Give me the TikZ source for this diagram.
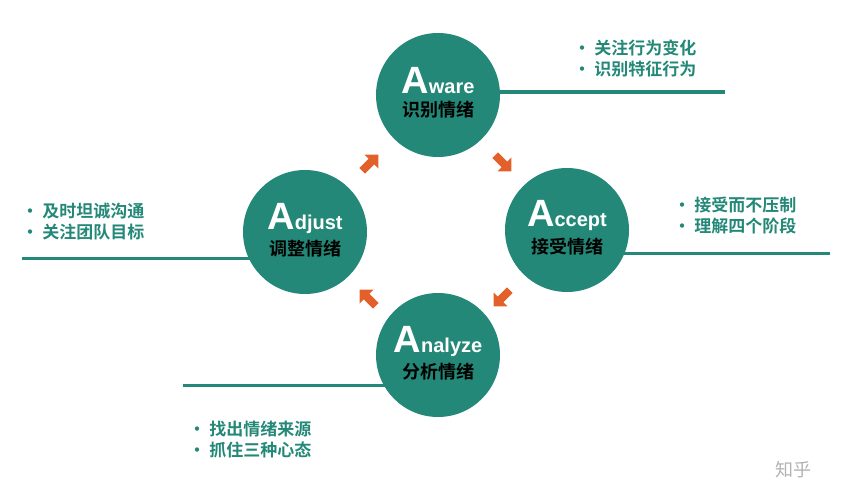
\documentclass[tikz,border=0pt]{standalone}
\usepackage{fontspec}
\setmainfont{Liberation Sans}
\newfontfamily\cjk{Noto Sans CJK SC}[BoldFont={* Bold}]
\begin{document}
\begin{tikzpicture}[x=1pt,y=-1pt,
  circ/.style={circle,fill=teal0,minimum size=124pt,inner sep=0pt},
  lin/.style={teal0,line width=3pt},
  note/.style={font=\cjk\bfseries\fontsize{17}{21}\selectfont,text=teal0,align=left,anchor=west},
  barr/.pic={\fill[orange0] (-11,-4)--(2,-4)--(2,-10)--(12,0)--(2,10)--(2,4)--(-11,4)--cycle;}]
\definecolor{teal0}{HTML}{238877}
\definecolor{orange0}{HTML}{E3602A}
\useasboundingbox (0,0) rectangle (865,503);
\def\lab#1#2{\shortstack{{\color{white}\bfseries #1}\\[4pt]{\cjk\bfseries\fontsize{18}{18}\selectfont #2}}}
\node[circ] (aw) at (438,95) {};
\node[circ] (ac) at (567,230) {};
\node[circ] (ad) at (305,232) {};
\node[circ] (an) at (438,355) {};
\node at (438,93) {\lab{\fontsize{38}{38}\selectfont A\fontsize{20}{20}\selectfont ware}{识别情绪}};
\node at (567,228) {\lab{\fontsize{38}{38}\selectfont A\fontsize{20}{20}\selectfont ccept}{接受情绪}};
\node at (305,230) {\lab{\fontsize{38}{38}\selectfont A\fontsize{20}{20}\selectfont djust}{调整情绪}};
\node at (438,353) {\lab{\fontsize{38}{38}\selectfont A\fontsize{20}{20}\selectfont nalyze}{分析情绪}};
\coordinate (e1) at (725,92);
\coordinate (e2) at (830,253);
\coordinate (e3) at (22,258);
\coordinate (e4) at (183,385);
\draw[lin] (aw.center |- e1) ++(50,0) -- (e1);
\draw[lin] (ac.center |- e2) ++(50,0) -- (e2);
\draw[lin] (e3) -- ([xshift=-50]ad.center |- e3);
\draw[lin] (e4) -- ([xshift=-45]an.center |- e4);
\node[note] (n1) at (570,58) {· 关注行为变化\\· 识别特征行为};
\node[note] (n2) at (670,216) {· 接受而不压制\\· 理解四个阶段};
\node[note] (n3) at (18,222) {· 及时坦诚沟通\\· 关注团队目标};
\node[note] (n4) at (185,440) {· 找出情绪来源\\· 抓住三种心态};
\pic[rotate=45] at (370,163) {barr};
\pic[rotate=-45] at (503,163) {barr};
\pic[rotate=-135] at (502,298) {barr};
\pic[rotate=135] at (368,298) {barr};
\node[font=\cjk\fontsize{18}{18}\selectfont,text=gray!60,anchor=east] (wm) at (815,470) {知乎};
\end{tikzpicture}
\end{document}
